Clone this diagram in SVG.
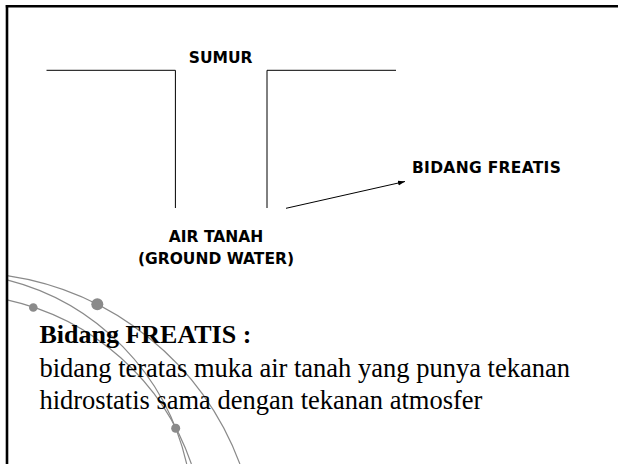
<svg xmlns="http://www.w3.org/2000/svg" width="618" height="464" viewBox="0 0 618 464">
  <defs>
    <marker id="arrowhead" markerWidth="8" markerHeight="6" refX="7" refY="3" orient="auto" markerUnits="userSpaceOnUse">
      <path d="M0,0.5 L7,3 L0,5.5 Z" fill="#000"/>
    </marker>
    <style>
      .lbl { font-family: "DejaVu Sans", "Liberation Sans", sans-serif; font-weight: bold; font-size: 15.5px; fill: #000; }
      .title { font-family: "Liberation Serif", serif; font-weight: bold; font-size: 26px; fill: #000; }
      .body { font-family: "Liberation Serif", serif; font-size: 26.5px; fill: #000; }
      .arc { fill: none; stroke: #8a8a8a; stroke-width: 1.2; }
      .dot { fill: #8a8a8a; }
      .wall { fill: none; stroke: #000; stroke-width: 1; }
    </style>
  </defs>
  <rect width="618" height="464" fill="#fff"/>

  <g id="decoration">
    <path class="arc" d="M7,275.7 A294.5,294.5 0 0 1 239.9,464"/>
    <path class="arc" d="M7,279.8 A246.3,246.3 0 0 1 186.7,464"/>
    <path class="arc" d="M7,299.8 A251.5,251.5 0 0 1 191.4,464"/>
    <circle class="dot" cx="97.3" cy="304.3" r="6"/>
    <circle class="dot" cx="33.3" cy="307.5" r="4.3"/>
    <circle class="dot" cx="175.7" cy="428.3" r="4.5"/>
  </g>

  <g id="frame">
    <line x1="5.8" y1="6.3" x2="618" y2="6.3" stroke="#000" stroke-width="2.6"/>
    <line x1="7" y1="5" x2="7" y2="464" stroke="#000" stroke-width="2.6"/>
  </g>

  <g id="well">
    <polyline class="wall" points="46.5,70.3 175.4,70.3 175.4,208"/>
    <polyline class="wall" points="267,208 267,70.3 396,70.3"/>
  </g>

  <g id="sumur">
    <text class="lbl" x="220.7" y="63.3" text-anchor="middle">SUMUR</text>
  </g>

  <g id="bidang-freatis">
    <text class="lbl" x="412" y="173" letter-spacing="0.3">BIDANG FREATIS</text>
  </g>

  <g id="air-tanah">
    <text class="lbl" x="216" y="242" text-anchor="middle">AIR TANAH</text>
    <text class="lbl" x="216" y="264" text-anchor="middle">(GROUND WATER)</text>
  </g>

  <g id="connectors">
    <line x1="286" y1="208.3" x2="405" y2="181.5" stroke="#000" stroke-width="1" marker-end="url(#arrowhead)"/>
  </g>

  <g id="definition">
    <text class="title" x="39.4" y="343.3">Bidang FREATIS :</text>
    <text class="body" x="39.4" y="376.7">bidang teratas muka air tanah yang punya tekanan</text>
    <text class="body" x="39.4" y="409.3">hidrostatis sama dengan tekanan atmosfer</text>
  </g>
</svg>
